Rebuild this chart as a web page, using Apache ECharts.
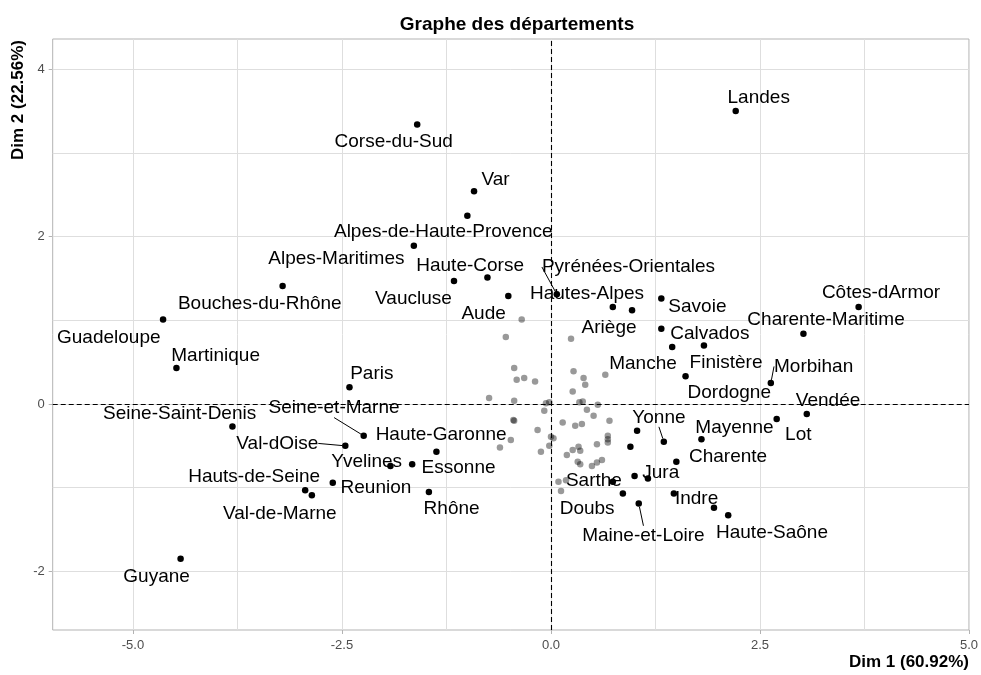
<!DOCTYPE html>
<html>
<head>
<meta charset="utf-8">
<script src="https://cdn.jsdelivr.net/npm/echarts@6/dist/echarts.min.js"></script>
<style>
html,body{margin:0;padding:0;background:#fff;}
#chart{width:981px;height:675px;}
</style>
</head>
<body>
<div id="chart"></div>
<script>
// ---- Data (Dim 1, Dim 2 coordinates) ----
const labeledNames = [
  'Landes','Corse-du-Sud','Var','Alpes-de-Haute-Provence','Alpes-Maritimes','Bouches-du-Rhône',
  'Vaucluse','Haute-Corse','Aude','Pyrénées-Orientales','Guadeloupe','Hautes-Alpes','Ariège',
  'Savoie','Calvados','Côtes-dArmor','Charente-Maritime','Martinique','Manche','Finistère',
  'Dordogne','Morbihan','Paris','Vendée','Lot','Seine-Saint-Denis','Seine-et-Marne','Val-dOise',
  'Yonne','Mayenne','Haute-Garonne','Charente','Yvelines','Essonne','Jura','Hauts-de-Seine',
  'Val-de-Marne','Reunion','Rhône','Sarthe','Doubs','Indre','Maine-et-Loire','Haute-Saône','Guyane'
];
const labeledDim1 = [
  2.21,-1.60,-0.92,-1.00,-1.64,-3.21,
  -1.16,-0.76,-0.51,0.07,-4.64,0.74,0.97,
  1.32,1.32,3.68,3.02,-4.48,1.45,1.83,
  1.61,2.63,-2.41,3.06,2.70,-3.81,-2.24,-2.46,
  1.35,1.80,-1.37,1.50,-1.92,-1.66,1.00,-2.94,
  -2.86,-2.61,-1.46,0.74,0.86,1.47,1.05,2.12,-4.43
];
const labeledDim2 = [
  3.50,3.34,2.54,2.25,1.89,1.41,
  1.47,1.51,1.29,1.31,1.01,1.16,1.12,
  1.26,0.90,1.16,0.84,0.43,0.68,0.70,
  0.33,0.25,0.20,-0.12,-0.18,-0.27,-0.38,-0.50,
  -0.45,-0.42,-0.57,-0.69,-0.74,-0.72,-0.86,-1.03,
  -1.09,-0.94,-1.05,-0.93,-1.07,-1.07,-1.19,-1.33,-1.85
];
// selected (black) points whose labels were dropped
const unlabeledDim1 = [1.03, 0.95, 1.16, 1.95];
const unlabeledDim2 = [-0.32, -0.51, -0.89, -1.24];
// remaining departments (grey)
const otherDim1 = [
  -0.35,-0.54,0.24,-0.44,-0.41,-0.32,-0.19,0.27,0.39,0.41,0.65,0.26,-0.74,-0.44,
  -0.06,-0.02,-0.08,0.34,0.38,0.56,0.43,0.51,-0.45,-0.44,0.14,0.29,0.37,0.70,
  -0.16,-0.48,0.00,0.03,-0.02,0.68,0.68,0.68,0.55,-0.61,-0.12,0.33,0.26,0.35,
  0.19,0.32,0.35,0.49,0.55,0.61,0.09,0.18,0.12
];
const otherDim2 = [
  1.01,0.80,0.78,0.43,0.29,0.31,0.27,0.39,0.31,0.23,0.35,0.15,0.07,0.04,
  0.01,0.02,-0.08,0.02,0.03,-0.01,-0.07,-0.14,-0.19,-0.20,-0.22,-0.26,-0.24,-0.20,
  -0.31,-0.43,-0.39,-0.41,-0.50,-0.38,-0.42,-0.46,-0.48,-0.52,-0.57,-0.51,-0.55,-0.56,
  -0.61,-0.69,-0.72,-0.74,-0.70,-0.67,-0.93,-0.91,-1.04
];
const xTicks = [-5, -2.5, 0, 2.5, 5];
const yTicks = [-2, 0, 2, 4];
const xMinorGrid = [-3.75, -1.25, 1.25, 3.75];
const yMinorGrid = [-1, 1, 3];
const xTitle = 'Dim 1 (60.92%)';
const yTitle = 'Dim 2 (22.56%)';
const chartTitle = 'Graphe des départements';

// ---- Label placement (repel layout, pixel offsets from the point) ----
const labelOffsets = {
  'Landes':[23,-13],'Corse-du-Sud':[-23.5,17.4],'Var':[21.5,-11.7],'Alpes-de-Haute-Provence':[-24.1,16.6],
  'Alpes-Maritimes':[-77.5,12.8],'Bouches-du-Rhône':[-22.8,17.6],'Vaucluse':[-40.5,17.7],'Haute-Corse':[-17.3,-12],
  'Aude':[-24.7,17.3],'Pyrénées-Orientales':[71.7,-27.3],'Guadeloupe':[-54.3,18],'Hautes-Alpes':[-25.8,-13.4],
  'Ariège':[-23,17.7],'Savoie':[36.1,8.4],'Calvados':[48.5,5],'Côtes-dArmor':[22.4,-13.7],
  'Charente-Maritime':[22.6,-13.7],'Martinique':[39.2,-12.7],'Manche':[-29.2,16.6],'Finistère':[22.1,17.6],
  'Dordogne':[43.7,16.2],'Morbihan':[42.8,-16.6],'Paris':[22.3,-13.3],'Vendée':[21.3,-13],'Lot':[21.6,16],
  'Seine-Saint-Denis':[-52.8,-13],'Seine-et-Marne':[-29.6,-27.7],'Val-dOise':[-68,-2.4],'Yonne':[-4.9,-24.3],
  'Mayenne':[33,-11.5],'Haute-Garonne':[4.7,-16.7],'Charente':[51.7,-5],'Yvelines':[-23.8,-4.3],
  'Essonne':[46.4,3.3],'Jura':[26.2,-3.4],'Hauts-de-Seine':[-51,-13],'Val-de-Marne':[-32.1,18.7],
  'Reunion':[43.2,5.3],'Rhône':[22.7,17.3],'Sarthe':[-18.9,-1.3],'Doubs':[-35.7,15.7],'Indre':[22.7,5.7],
  'Maine-et-Loire':[4.7,31.7],'Haute-Saône':[43.8,17.3],'Guyane':[-24,17.7]
};
const withSegment = ['Pyrénées-Orientales','Seine-et-Marne','Val-dOise','Yonne','Morbihan','Maine-et-Loire'];

const FONT = "'Liberation Sans', Arial, sans-serif";
const chart = echarts.init(document.getElementById('chart'), null, {renderer: 'canvas'});

const labeledData = labeledNames.map((n, i) => {
  const item = {name: n, value: [labeledDim1[i], labeledDim2[i]]};
  if (withSegment.indexOf(n) >= 0) {
    item.labelLine = {show: true, lineStyle: {color: '#000', width: 1, opacity: 1}};
  }
  return item;
});
const unlabeledData = unlabeledDim1.map((x, i) => [x, unlabeledDim2[i]]);
const otherData = otherDim1.map((x, i) => [x, otherDim2[i]]);

const gridLineStyle = {color: '#dedede', width: 1, type: 'solid', opacity: 1};
const zeroLineStyle = {color: '#000', width: 1.1, type: [5, 3], opacity: 1};
const markLineData = []
  .concat(xTicks.map(v => ({xAxis: v, lineStyle: gridLineStyle})))
  .concat(xMinorGrid.map(v => ({xAxis: v, lineStyle: gridLineStyle})))
  .concat(yTicks.map(v => ({yAxis: v, lineStyle: gridLineStyle})))
  .concat(yMinorGrid.map(v => ({yAxis: v, lineStyle: gridLineStyle})))
  .concat([{xAxis: 0, lineStyle: zeroLineStyle}, {yAxis: 0, lineStyle: zeroLineStyle}]);

const axisCommon = {
  type: 'value',
  axisLine: {show: false, onZero: false},
  splitLine: {show: false},
  axisTick: {show: true, length: 4, lineStyle: {color: '#b3b3b3', width: 1}},
  axisLabel: {color: '#4d4d4d', fontSize: 13, fontFamily: FONT}
};

const option = {
  backgroundColor: '#fff',
  animation: false,
  title: {
    text: chartTitle,
    left: 512, top: 9, textAlign: 'center',
    textStyle: {fontSize: 19, fontWeight: 'bold', color: '#000', fontFamily: FONT, lineHeight: 22}
  },
  grid: {
    left: 52.7, right: 9.3, top: 39, bottom: 45,
    show: true, borderColor: '#b3b3b3', borderWidth: 1, backgroundColor: 'transparent'
  },
  xAxis: [
    Object.assign({}, axisCommon, {
      min: -5.96, max: 5.0, position: 'bottom',
      axisTick: Object.assign({}, axisCommon.axisTick, {customValues: xTicks}),
      axisLabel: Object.assign({}, axisCommon.axisLabel, {customValues: xTicks, margin: 9,
        formatter: v => Number(v).toFixed(1)})
    }),
    {
      type: 'value', min: -5.96, max: 5.0, position: 'bottom', offset: 32,
      axisLine: {show: false, onZero: false}, axisTick: {show: false}, axisLabel: {show: false}, splitLine: {show: false},
      name: xTitle, nameLocation: 'end', nameGap: 0,
      nameTextStyle: {fontSize: 17, fontWeight: 'bold', color: '#000', fontFamily: FONT, align: 'right', verticalAlign: 'middle'}
    }
  ],
  yAxis: [
    Object.assign({}, axisCommon, {
      min: -2.70, max: 4.36, position: 'left',
      axisTick: Object.assign({}, axisCommon.axisTick, {customValues: yTicks}),
      axisLabel: Object.assign({}, axisCommon.axisLabel, {customValues: yTicks, margin: 8,
        formatter: v => String(v)})
    }),
    {
      type: 'value', min: -2.70, max: 4.36, position: 'left', offset: 34,
      axisLine: {show: false, onZero: false}, axisTick: {show: false}, axisLabel: {show: false}, splitLine: {show: false},
      name: yTitle, nameLocation: 'end', nameGap: -1, nameRotate: 90, nameMoveOverlap: false,
      nameTextStyle: {fontSize: 17, fontWeight: 'bold', color: '#000', fontFamily: FONT, align: 'right', verticalAlign: 'middle'}
    }
  ],
  series: [
    {
      type: 'scatter', name: 'others', xAxisIndex: 0, yAxisIndex: 0, z: 2,
      data: otherData, symbol: 'circle', symbolSize: 6.5,
      itemStyle: {color: 'rgba(0,0,0,0.4)', opacity: 1},
      silent: true,
      markLine: {
        silent: true, symbol: 'none', z: 1, animation: false,
        label: {show: false}, emphasis: {disabled: true},
        data: markLineData
      }
    },
    {
      type: 'scatter', name: 'selected-unlabeled', xAxisIndex: 0, yAxisIndex: 0, z: 3,
      data: unlabeledData, symbol: 'circle', symbolSize: 6.5,
      itemStyle: {color: '#000', opacity: 1}, silent: true
    },
    {
      type: 'scatter', name: 'selected', xAxisIndex: 0, yAxisIndex: 0, z: 4,
      data: labeledData, symbol: 'circle', symbolSize: 6.5,
      itemStyle: {color: '#000', opacity: 1}, silent: true,
      label: {
        show: true, position: 'inside', formatter: p => p.name,
        color: '#000', opacity: 1, fontSize: 19, fontFamily: FONT, textBorderWidth: 0,
        align: 'center', verticalAlign: 'middle'
      },
      labelLine: {show: false, lineStyle: {color: '#000', width: 1}},
      labelLayout: function (params) {
        const n = labeledNames[params.dataIndex];
        const o = labelOffsets[n] || [0, 0];
        return {dx: o[0], dy: o[1], hideOverlap: false};
      }
    }
  ]
};
chart.setOption(option);
</script>
</body>
</html>
